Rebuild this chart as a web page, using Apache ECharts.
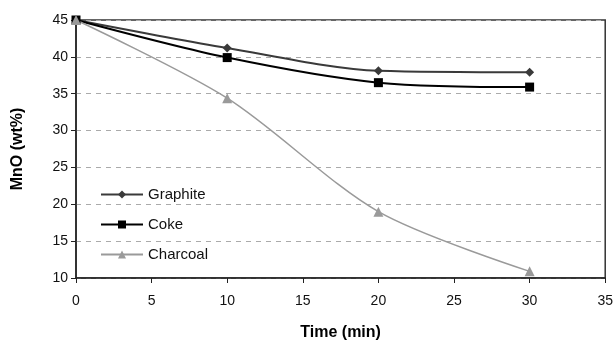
<!DOCTYPE html>
<html>
<head>
<meta charset="utf-8">
<script src="https://cdn.jsdelivr.net/npm/echarts@6/dist/echarts.min.js"></script>
<style>
  html, body { margin: 0; padding: 0; background: #fff; }
  #main { width: 616px; height: 350px; }
</style>
</head>
<body>
<div id="main"></div>
<script>
// time (min)
const times = [0, 10, 20, 30]
// MnO (wt%)
const graphite = [45, 41.2, 38.1, 37.9]
const coke = [45, 39.9, 36.5, 35.9]
const charcoal = [45, 34.4, 19, 10.9]

const seriesDefs = [
  { name: 'Graphite', data: graphite, color: '#3a3a3a', symbol: 'diamond', size: 9 },
  { name: 'Coke', data: coke, color: '#000000', symbol: 'rect', size: 9 },
  { name: 'Charcoal', data: charcoal, color: '#9a9a9a', symbol: 'triangle', size: 10 }
]

const chart = echarts.init(document.getElementById('main'))

const option = {
  animation: false,
  backgroundColor: '#fff',
  grid: { left: 76, right: 9, top: 20, bottom: 72, show: true, borderColor: '#333', borderWidth: 1.5 },
  legend: {
    orient: 'vertical',
    left: 95,
    top: 182,
    itemGap: 15,
    itemWidth: 42,
    itemHeight: 10,
    textStyle: { fontFamily: 'Liberation Sans', fontSize: 15, color: '#111' },
    data: seriesDefs.map(s => s.name)
  },
  xAxis: {
    type: 'value',
    min: 0,
    max: 35,
    interval: 5,
    name: 'Time (min)',
    nameLocation: 'middle',
    nameGap: 47,
    nameTextStyle: { fontFamily: 'Liberation Sans', fontSize: 16, fontWeight: 'bold', color: '#000' },
    axisLine: { lineStyle: { color: '#222', width: 1.5 } },
    axisTick: { show: true, length: 5, lineStyle: { color: '#222' } },
    axisLabel: { fontFamily: 'Liberation Sans', fontSize: 14, color: '#111', margin: 16 },
    splitLine: { show: false }
  },
  yAxis: {
    type: 'value',
    min: 10,
    max: 45,
    interval: 5,
    name: 'MnO (wt%)',
    nameLocation: 'middle',
    nameGap: 50,
    nameRotate: 90,
    nameTextStyle: { fontFamily: 'Liberation Sans', fontSize: 16, fontWeight: 'bold', color: '#000' },
    axisLine: { show: true, lineStyle: { color: '#222', width: 1.5 } },
    axisTick: { show: true, length: 5, lineStyle: { color: '#222' } },
    axisLabel: { fontFamily: 'Liberation Sans', fontSize: 14, color: '#111', margin: 8 },
    splitLine: { show: true, lineStyle: { color: '#aaa', type: [5, 5], width: 1 } }
  },
  series: seriesDefs.map(s => ({
    name: s.name,
    type: 'line',
    smooth: 0.3,
    symbol: s.symbol,
    symbolSize: s.size,
    itemStyle: { color: s.color },
    lineStyle: { color: s.color, width: s.name === 'Charcoal' ? 1.5 : 2 },
    data: times.map((t, i) => [t, s.data[i]])
  }))
}

chart.setOption(option)
</script>
</body>
</html>
